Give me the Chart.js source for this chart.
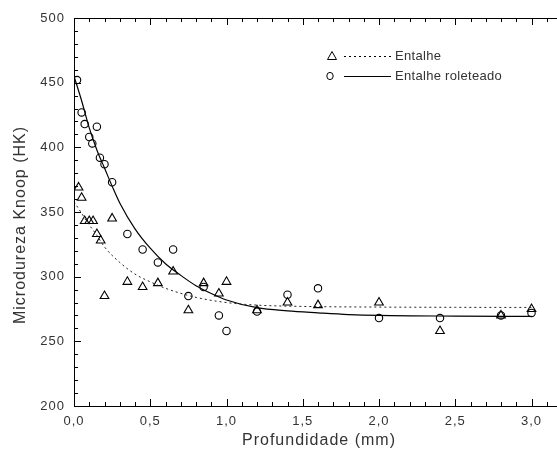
<!DOCTYPE html>
<html lang="pt">
<head>
<meta charset="UTF-8" />
<title>Microdureza Knoop x Profundidade</title>
<script src="https://cdn.jsdelivr.net/npm/chart.js"></script>
<style>
  html, body { margin: 0; padding: 0; background: #fff; overflow: hidden; }
  #wrap { width: 570px; height: 460px; }
</style>
</head>
<body>
<div id="wrap"><canvas id="grafico" width="570" height="460"></canvas></div>
<script>
// Entalhe (triângulos)
const xEntalhe = [0.03, 0.05, 0.07, 0.10, 0.125, 0.15, 0.175, 0.20, 0.25, 0.35, 0.45, 0.55, 0.65, 0.75, 0.85, 0.95, 1.0, 1.2, 1.4, 1.6, 2.0, 2.4, 2.8, 3.0];
const yEntalhe = [369, 361, 343, 343, 343, 333, 328, 285, 345, 296, 292, 295, 304, 274, 295, 287, 296, 274, 280, 278, 280, 258, 270, 275];
// Entalhe roleteado (círculos)
const xRoleteado = [0.02, 0.05, 0.07, 0.10, 0.12, 0.15, 0.17, 0.20, 0.25, 0.35, 0.45, 0.55, 0.65, 0.75, 0.85, 0.95, 1.0, 1.2, 1.4, 1.6, 2.0, 2.4, 2.8, 3.0];
const yRoleteado = [452, 427, 418, 408, 403, 416, 392, 387, 373, 333, 321, 311, 321, 285, 292, 270, 258, 273, 286, 291, 268, 268, 270, 272];
// curvas ajustadas
const xAjusteEnt = [0, 0.05, 0.1, 0.15, 0.2, 0.3, 0.4, 0.5, 0.6, 0.8, 1.0, 1.2, 1.5, 2.0, 2.5, 3.0];
const yAjusteEnt = [358, 349, 340, 332, 323, 311, 302, 296, 291, 284, 280, 278, 277, 276.5, 276.3, 276.2];
const xAjusteRol = [0, 0.05, 0.1, 0.15, 0.2, 0.25, 0.3, 0.4, 0.5, 0.6, 0.7, 0.8, 0.9, 1.0, 1.2, 1.4, 1.6, 1.8, 2.0, 2.5, 3.0];
const yAjusteRol = [455, 436, 415, 398, 384, 370, 357, 337, 322, 310, 301, 293, 287, 282, 276, 273.5, 272, 270.7, 270, 269.5, 269.3];

const rotulosLegenda = ["Entalhe", "Entalhe roleteado"];

function pares(xs, ys) {
  return xs.map((x, i) => ({ x: x, y: ys[i] }));
}

const corTexto = "#333";
const fonte = "Arial, 'Liberation Sans', sans-serif";

// espaçamento entre letras, como no original
const espacamentoPlugin = {
  id: "espacamento",
  beforeDraw(chart) {
    chart.ctx.letterSpacing = "1px";
  }
};

// eixos com marcas para dentro, títulos e legenda
const molduraPlugin = {
  id: "moldura",
  afterDraw(chart) {
    const ctx = chart.ctx;
    const a = chart.chartArea;
    const sx = chart.scales.x;
    const sy = chart.scales.y;
    ctx.save();
    ctx.strokeStyle = "#000";
    ctx.lineWidth = 1;
    ctx.beginPath();
    ctx.moveTo(a.left + 0.5, a.top + 0.5);
    ctx.lineTo(a.left + 0.5, a.bottom + 0.5);
    ctx.lineTo(a.right, a.bottom + 0.5);
    ctx.moveTo(a.left + 0.5, a.top + 0.5);
    ctx.lineTo(a.right, a.top + 0.5);
    ctx.stroke();

    ctx.beginPath();
    sx.ticks.forEach(t => {
      const px = Math.round(sx.getPixelForValue(t.value)) + 0.5;
      const maior = Math.abs(t.value * 2 - Math.round(t.value * 2)) < 1e-6;
      const len = maior ? 7 : 4;
      ctx.moveTo(px, a.bottom);
      ctx.lineTo(px, a.bottom - len);
      ctx.moveTo(px, a.top);
      ctx.lineTo(px, a.top + len);
    });
    sy.ticks.forEach(t => {
      const py = Math.round(sy.getPixelForValue(t.value)) + 0.5;
      const maior = t.value % 50 === 0;
      const len = maior ? 7 : 4;
      ctx.moveTo(a.left, py);
      ctx.lineTo(a.left + len, py);
    });
    ctx.stroke();

    // títulos dos eixos
    ctx.letterSpacing = "1px";
    ctx.fillStyle = corTexto;
    ctx.font = "16px " + fonte;
    ctx.textAlign = "center";
    ctx.textBaseline = "middle";
    ctx.fillText("Profundidade (mm)", 319, 441);
    ctx.translate(21, 225);
    ctx.rotate(-Math.PI / 2);
    ctx.fillText("Microdureza Knoop (HK)", 0, 0);
    ctx.restore();

    // legenda
    ctx.save();
    ctx.letterSpacing = "0.3px";
    ctx.strokeStyle = "#000";
    ctx.lineWidth = 1;
    ctx.font = "13px " + fonte;
    ctx.fillStyle = corTexto;
    ctx.textBaseline = "middle";
    ctx.textAlign = "left";
    // linha 1: triângulo + pontilhado
    const y1 = 56, y2 = 76;
    ctx.beginPath();
    ctx.moveTo(332, y1 - 4.5);
    ctx.lineTo(336.5, y1 + 3.5);
    ctx.lineTo(327.5, y1 + 3.5);
    ctx.closePath();
    ctx.stroke();
    ctx.setLineDash([2, 3]);
    ctx.beginPath();
    ctx.moveTo(344, y1 + 0.5);
    ctx.lineTo(391, y1 + 0.5);
    ctx.stroke();
    ctx.setLineDash([]);
    ctx.fillText(rotulosLegenda[0], 395, y1);
    // linha 2: círculo + contínua
    ctx.beginPath();
    ctx.ellipse(330, y2, 3.2, 3.6, 0, 0, Math.PI * 2);
    ctx.stroke();
    ctx.lineWidth = 1.2;
    ctx.beginPath();
    ctx.moveTo(344, y2 + 0.5);
    ctx.lineTo(391, y2 + 0.5);
    ctx.stroke();
    ctx.fillText(rotulosLegenda[1], 395, y2);
    ctx.restore();
  }
};

new Chart(document.getElementById("grafico").getContext("2d"), {
  type: "scatter",
  data: {
    datasets: [
      {
        label: "Ajuste entalhe",
        data: pares(xAjusteEnt, yAjusteEnt),
        showLine: true,
        borderColor: "#222",
        borderWidth: 1,
        borderDash: [2, 3],
        pointRadius: 0,
        cubicInterpolationMode: "monotone"
      },
      {
        label: "Ajuste roleteado",
        data: pares(xAjusteRol, yAjusteRol),
        showLine: true,
        borderColor: "#000",
        borderWidth: 1.2,
        pointRadius: 0,
        cubicInterpolationMode: "monotone"
      },
      {
        label: rotulosLegenda[0],
        data: pares(xEntalhe, yEntalhe),
        pointStyle: "triangle",
        pointRadius: 5,
        borderColor: "#000",
        borderWidth: 1.1,
        backgroundColor: "rgba(0,0,0,0)"
      },
      {
        label: rotulosLegenda[1],
        data: pares(xRoleteado, yRoleteado),
        pointStyle: "circle",
        pointRadius: 3.7,
        borderColor: "#000",
        borderWidth: 1.1,
        backgroundColor: "rgba(0,0,0,0)"
      }
    ]
  },
  options: {
    responsive: false,
    animation: false,
    devicePixelRatio: 1,
    layout: { padding: { top: 18, right: 5, left: 0, bottom: 0 } },
    plugins: { legend: { display: false }, tooltip: { enabled: false } },
    scales: {
      x: {
        type: "linear",
        min: 0,
        max: 3.2,
        grid: { display: false, drawTicks: false },
        border: { display: false },
        afterFit: s => { s.height = 54; },
        ticks: {
          stepSize: 0.1,
          autoSkip: false,
          maxRotation: 0,
          padding: 8,
          color: corTexto,
          font: { size: 13, family: fonte },
          callback: v => {
            const m = Math.round(v * 10);
            return (m % 5 === 0 && m <= 30) ? (m / 10).toFixed(1).replace(".", ",") : "";
          }
        }
      },
      y: {
        min: 200,
        max: 500,
        grid: { display: false, drawTicks: false },
        border: { display: false },
        afterFit: s => { s.width = 74; },
        ticks: {
          stepSize: 10,
          autoSkip: false,
          padding: 9,
          color: corTexto,
          font: { size: 13, family: fonte },
          callback: v => (v % 50 === 0 ? String(v) : "")
        }
      }
    }
  },
  plugins: [espacamentoPlugin, molduraPlugin]
});
</script>
</body>
</html>
